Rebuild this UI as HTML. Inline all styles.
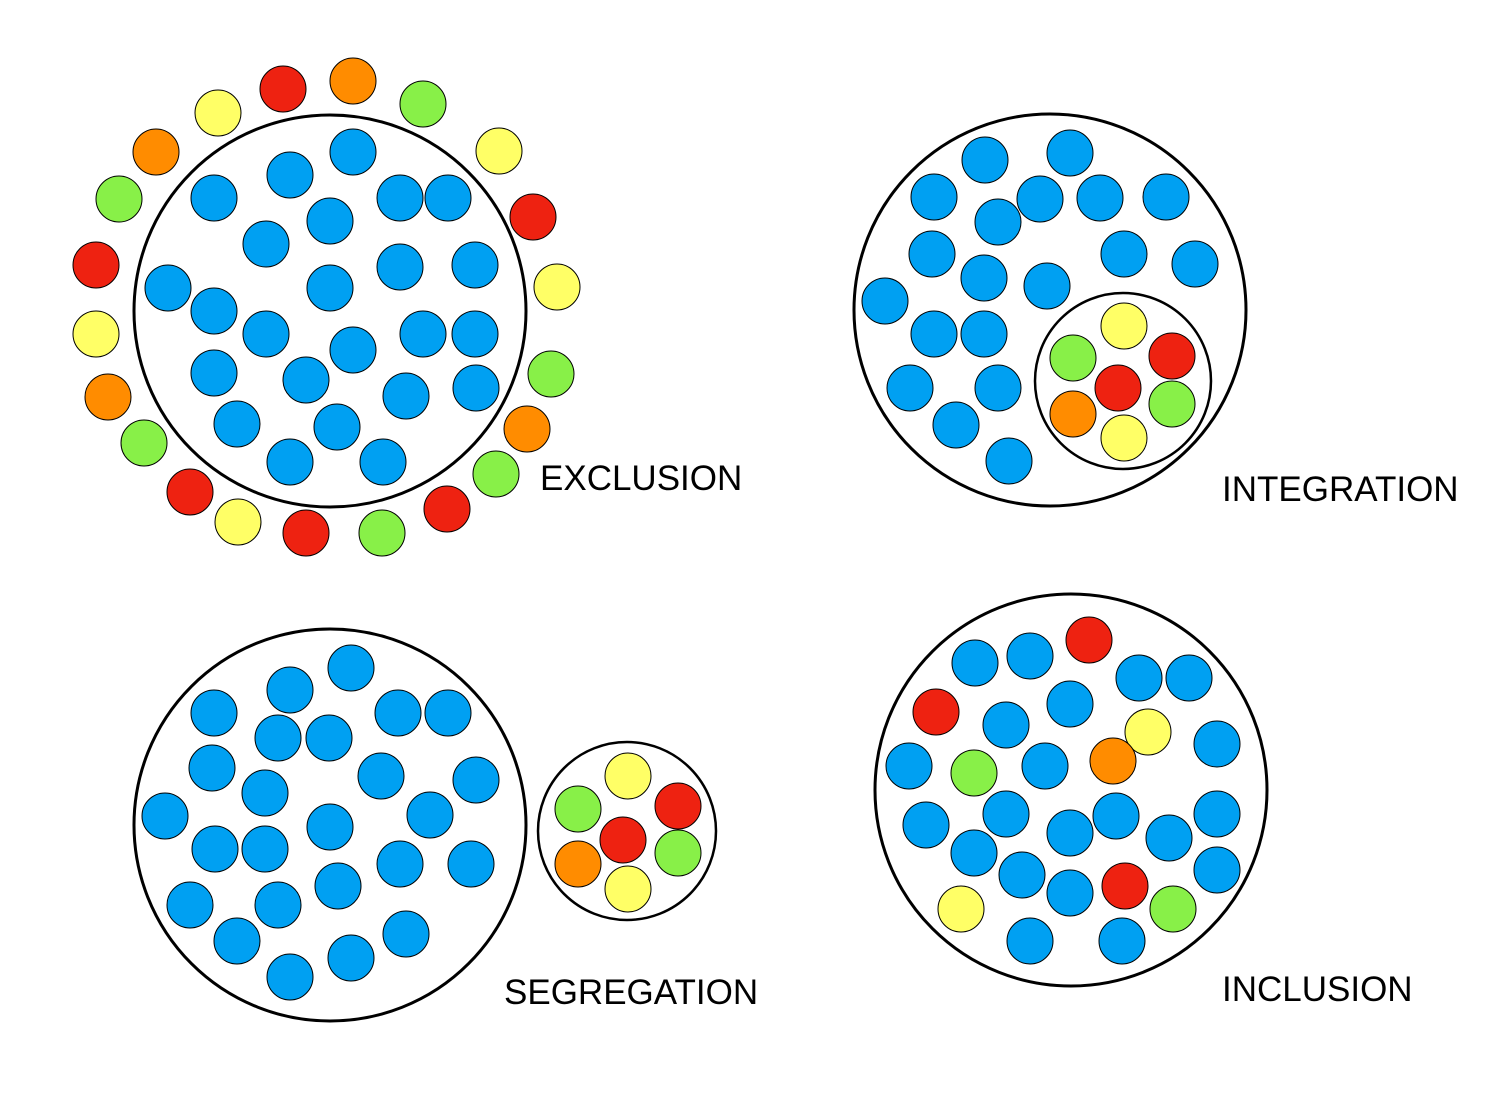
<!DOCTYPE html>
<html><head><meta charset="utf-8"><style>
html,body{margin:0;padding:0;background:#fff;}
svg{display:block}
.b{fill:#00A0F2}.r{fill:#EE2211}.o{fill:#FF8C00}.y{fill:#FFFF66}.g{fill:#88F048}
circle{stroke:#000;stroke-width:1}
circle.big{fill:none;stroke:#000;stroke-width:3}
circle.inner{fill:#fff;stroke:#000;stroke-width:2.5}
text{font-family:"Liberation Sans",sans-serif;font-size:35px;fill:#000}
</style></head><body>
<svg width="1500" height="1100" viewBox="0 0 1500 1100" xmlns="http://www.w3.org/2000/svg">
<rect width="1500" height="1100" fill="#fff"/>
<g id="ex">
<circle class="big" cx="330" cy="311" r="196"/>
<g>
<circle class="r" cx="283" cy="89" r="23"/><circle class="o" cx="353" cy="81" r="23"/><circle class="g" cx="423" cy="104" r="23"/>
<circle class="y" cx="218" cy="113" r="23"/><circle class="o" cx="156" cy="152" r="23"/><circle class="y" cx="499" cy="151" r="23"/>
<circle class="g" cx="119" cy="199" r="23"/><circle class="r" cx="533" cy="217" r="23"/><circle class="r" cx="96" cy="265" r="23"/>
<circle class="y" cx="557" cy="287" r="23"/><circle class="y" cx="96" cy="334" r="23"/><circle class="g" cx="551" cy="374" r="23"/>
<circle class="o" cx="108" cy="397" r="23"/><circle class="o" cx="527" cy="429" r="23"/><circle class="g" cx="144" cy="443" r="23"/>
<circle class="g" cx="496" cy="474" r="23"/><circle class="r" cx="190" cy="492" r="23"/><circle class="y" cx="238" cy="522" r="23"/>
<circle class="r" cx="306" cy="533" r="23"/><circle class="g" cx="382" cy="533" r="23"/><circle class="r" cx="447" cy="509" r="23"/>
</g>
<g>
<circle class="b" cx="353" cy="152" r="23"/><circle class="b" cx="290" cy="175" r="23"/><circle class="b" cx="214" cy="198" r="23"/>
<circle class="b" cx="400" cy="198" r="23"/><circle class="b" cx="448" cy="198" r="23"/><circle class="b" cx="330" cy="221" r="23"/>
<circle class="b" cx="266" cy="244" r="23"/><circle class="b" cx="400" cy="267" r="23"/><circle class="b" cx="475" cy="265" r="23"/>
<circle class="b" cx="330" cy="288" r="23"/><circle class="b" cx="168" cy="288" r="23"/><circle class="b" cx="214" cy="311" r="23"/>
<circle class="b" cx="266" cy="334" r="23"/><circle class="b" cx="423" cy="334" r="23"/><circle class="b" cx="475" cy="334" r="23"/>
<circle class="b" cx="353" cy="350" r="23"/><circle class="b" cx="214" cy="373" r="23"/><circle class="b" cx="306" cy="380" r="23"/>
<circle class="b" cx="406" cy="396" r="23"/><circle class="b" cx="476" cy="388" r="23"/><circle class="b" cx="237" cy="424" r="23"/>
<circle class="b" cx="337" cy="427" r="23"/><circle class="b" cx="290" cy="462" r="23"/><circle class="b" cx="383" cy="462" r="23"/>
</g>
<text x="540" y="490">EXCLUSION</text>
</g>

<g id="in">
<circle class="big" cx="1050" cy="310" r="196"/>
<circle class="b" cx="985" cy="160" r="23"/><circle class="b" cx="1070" cy="153" r="23"/><circle class="b" cx="934" cy="197" r="23"/>
<circle class="b" cx="1040" cy="199" r="23"/><circle class="b" cx="1100" cy="198" r="23"/><circle class="b" cx="1166" cy="197" r="23"/>
<circle class="b" cx="998" cy="222" r="23"/><circle class="b" cx="932" cy="254" r="23"/><circle class="b" cx="984" cy="278" r="23"/>
<circle class="b" cx="1124" cy="254" r="23"/><circle class="b" cx="1195" cy="264" r="23"/><circle class="b" cx="1047" cy="286" r="23"/>
<circle class="b" cx="885" cy="301" r="23"/><circle class="b" cx="934" cy="334" r="23"/><circle class="b" cx="984" cy="334" r="23"/>
<circle class="b" cx="910" cy="388" r="23"/><circle class="b" cx="998" cy="388" r="23"/><circle class="b" cx="956" cy="425" r="23"/>
<circle class="b" cx="1009" cy="461" r="23"/>
<circle class="inner" cx="1123" cy="381" r="88"/>
<circle class="y" cx="1124" cy="326" r="23"/><circle class="g" cx="1073" cy="358" r="23"/><circle class="r" cx="1172" cy="356" r="23"/>
<circle class="r" cx="1118" cy="388" r="23"/><circle class="o" cx="1073" cy="414" r="23"/><circle class="g" cx="1172" cy="404" r="23"/>
<circle class="y" cx="1124" cy="438" r="23"/>
<text x="1222" y="501">INTEGRATION</text>
</g>

<g id="seg">
<circle class="big" cx="330" cy="825" r="196"/>
<circle class="b" cx="351" cy="668" r="23"/><circle class="b" cx="290" cy="690" r="23"/><circle class="b" cx="214" cy="713" r="23"/>
<circle class="b" cx="398" cy="713" r="23"/><circle class="b" cx="448" cy="713" r="23"/><circle class="b" cx="278" cy="738" r="23"/>
<circle class="b" cx="329" cy="738" r="23"/><circle class="b" cx="212" cy="768" r="23"/><circle class="b" cx="381" cy="776" r="23"/>
<circle class="b" cx="476" cy="780" r="23"/><circle class="b" cx="265" cy="793" r="23"/><circle class="b" cx="165" cy="816" r="23"/>
<circle class="b" cx="330" cy="827" r="23"/><circle class="b" cx="430" cy="815" r="23"/><circle class="b" cx="215" cy="849" r="23"/>
<circle class="b" cx="265" cy="849" r="23"/><circle class="b" cx="400" cy="864" r="23"/><circle class="b" cx="471" cy="864" r="23"/>
<circle class="b" cx="338" cy="886" r="23"/><circle class="b" cx="190" cy="905" r="23"/><circle class="b" cx="278" cy="905" r="23"/>
<circle class="b" cx="237" cy="941" r="23"/><circle class="b" cx="406" cy="934" r="23"/><circle class="b" cx="351" cy="958" r="23"/>
<circle class="b" cx="290" cy="977" r="23"/>
<circle class="inner" cx="627" cy="831" r="89"/>
<circle class="y" cx="628" cy="776" r="23"/><circle class="g" cx="578" cy="809" r="23"/><circle class="r" cx="678" cy="806" r="23"/>
<circle class="r" cx="623" cy="840" r="23"/><circle class="o" cx="578" cy="864" r="23"/><circle class="g" cx="678" cy="853" r="23"/>
<circle class="y" cx="628" cy="889" r="23"/>
<text x="504" y="1004">SEGREGATION</text>
</g>

<g id="inc">
<circle class="big" cx="1071" cy="790" r="196"/>
<circle class="r" cx="1089" cy="640" r="23"/><circle class="b" cx="975" cy="663" r="23"/><circle class="b" cx="1030" cy="656" r="23"/>
<circle class="b" cx="1139" cy="678" r="23"/><circle class="b" cx="1189" cy="678" r="23"/><circle class="r" cx="936" cy="712" r="23"/>
<circle class="b" cx="1070" cy="704" r="23"/><circle class="b" cx="1006" cy="725" r="23"/><circle class="y" cx="1148" cy="732" r="23"/>
<circle class="b" cx="1217" cy="744" r="23"/><circle class="b" cx="909" cy="766" r="23"/><circle class="g" cx="974" cy="773" r="23"/>
<circle class="b" cx="1045" cy="766" r="23"/><circle class="o" cx="1113" cy="761" r="23"/><circle class="b" cx="926" cy="825" r="23"/>
<circle class="b" cx="1006" cy="814" r="23"/><circle class="b" cx="1116" cy="816" r="23"/><circle class="b" cx="1217" cy="814" r="23"/>
<circle class="b" cx="1070" cy="833" r="23"/><circle class="b" cx="1169" cy="838" r="23"/><circle class="b" cx="974" cy="853" r="23"/>
<circle class="b" cx="1022" cy="875" r="23"/><circle class="b" cx="1217" cy="870" r="23"/><circle class="r" cx="1125" cy="886" r="23"/>
<circle class="b" cx="1070" cy="893" r="23"/><circle class="y" cx="961" cy="909" r="23"/><circle class="g" cx="1173" cy="909" r="23"/>
<circle class="b" cx="1030" cy="941" r="23"/><circle class="b" cx="1122" cy="941" r="23"/>
<text x="1222" y="1001">INCLUSION</text>
</g>
</svg>
</body></html>
